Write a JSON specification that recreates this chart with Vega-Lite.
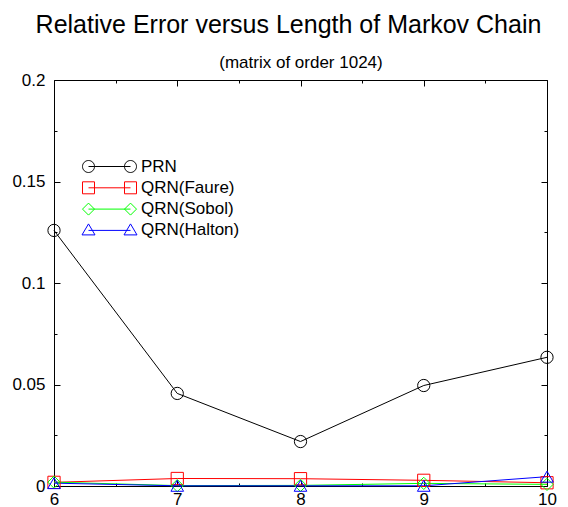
{
  "$schema": "https://vega.github.io/schema/vega-lite/v6.json",
  "width": 493,
  "height": 406,
  "autosize": {"type": "none"},
  "padding": {"left": 54, "top": 80, "right": 21, "bottom": 21},
  "config": {
    "font": "Liberation Sans",
    "view": {"stroke": null},
    "axis": {"grid": false, "domainColor": "#000000", "tickColor": "#000000", "labelColor": "#000000", "labelFontSize": 17, "labelFont": "Liberation Sans", "domainWidth": 1, "tickWidth": 1, "labelFlush": false}
  },
  "title": {
    "text": "Relative Error versus Length of Markov Chain",
    "fontSize": 25,
    "fontWeight": "normal",
    "font": "Liberation Sans",
    "color": "#000000",
    "anchor": "middle",
    "frame": "group",
    "dx": -12,
    "offset": 16
  },
  "data": {
    "values": [
      {"n": 6, "err": 0.1259, "series": "PRN"},
      {"n": 7, "err": 0.0456, "series": "PRN"},
      {"n": 8, "err": 0.0219, "series": "PRN"},
      {"n": 9, "err": 0.0495, "series": "PRN"},
      {"n": 10, "err": 0.0634, "series": "PRN"},
      {"n": 6, "err": 0.0018, "series": "QRN(Faure)"},
      {"n": 7, "err": 0.0037, "series": "QRN(Faure)"},
      {"n": 8, "err": 0.0036, "series": "QRN(Faure)"},
      {"n": 9, "err": 0.0028, "series": "QRN(Faure)"},
      {"n": 10, "err": 0.0016, "series": "QRN(Faure)"},
      {"n": 6, "err": 0.0019, "series": "QRN(Sobol)"},
      {"n": 7, "err": 0.0002, "series": "QRN(Sobol)"},
      {"n": 8, "err": 0.0003, "series": "QRN(Sobol)"},
      {"n": 9, "err": 0.0013, "series": "QRN(Sobol)"},
      {"n": 10, "err": 0.0008, "series": "QRN(Sobol)"},
      {"n": 6, "err": 0.0014, "series": "QRN(Halton)"},
      {"n": 7, "err": 0.0001, "series": "QRN(Halton)"},
      {"n": 8, "err": 0.0001, "series": "QRN(Halton)"},
      {"n": 9, "err": 0.0001, "series": "QRN(Halton)"},
      {"n": 10, "err": 0.0046, "series": "QRN(Halton)"}
    ]
  },
  "layer": [
    {
      "mark": {"type": "line", "strokeWidth": 1, "clip": false},
      "encoding": {
        "x": {
          "field": "n", "type": "quantitative",
          "scale": {"domain": [6, 10], "nice": false, "zero": false},
          "axis": {
            "orient": "bottom", "title": null,
            "values": [6, 6.5, 7, 7.5, 8, 8.5, 9, 9.5, 10],
            "labelExpr": "datum.value % 1 == 0 ? format(datum.value, 'd') : ''",
            "tickSize": {"condition": {"test": "datum.value % 1 == 0", "value": -6}, "value": -3},
            "labelPadding": 11,
            "labelOverlap": false
          }
        },
        "y": {
          "field": "err", "type": "quantitative",
          "scale": {"domain": [0, 0.2], "nice": false},
          "axis": {
            "orient": "left", "title": null,
            "values": [0, 0.025, 0.05, 0.075, 0.1, 0.125, 0.15, 0.175, 0.2],
            "labelExpr": "abs(round(datum.value*20)-datum.value*20) < 1e-6 ? format(datum.value, '~g') : ''",
            "tickSize": {"condition": {"test": "abs(round(datum.value*20)-datum.value*20) < 1e-6", "value": -6}, "value": -3},
            "labelPadding": 15,
            "labelOverlap": false
          }
        },
        "color": {
          "field": "series", "type": "nominal",
          "scale": {"domain": ["PRN", "QRN(Faure)", "QRN(Sobol)", "QRN(Halton)"], "range": ["#000000", "#ff0000", "#00ff00", "#0000ff"]},
          "legend": {
            "title": null,
            "orient": "none",
            "legendX": 47,
            "legendY": 78,
            "padding": 0,
            "symbolSize": 100,
            "symbolStrokeWidth": 1,
            "labelFontSize": 17,
            "labelFont": "Liberation Sans",
            "labelColor": "#000000",
            "labelOffset": 23,
            "rowPadding": 3.3,
            "encode": {
              "symbols": {
                "update": {
                  "fill": {"value": "transparent"},
                  "strokeWidth": {"value": 1},
                  "shape": {"signal": "datum.value === 'PRN' ? 'M-4.2,0H4.2M-3,0A1.2,1.2,0,1,1,-5.4,0A1.2,1.2,0,1,1,-3,0M5.4,0A1.2,1.2,0,1,1,3,0A1.2,1.2,0,1,1,5.4,0' : datum.value === 'QRN(Faure)' ? 'M-4.2,0H4.2M-5.4,-1.2H-3V1.2H-5.4ZM3,-1.2H5.4V1.2H3Z' : datum.value === 'QRN(Sobol)' ? 'M-4.2,0H4.2M-4.2,-1.2L-3,0L-4.2,1.2L-5.4,0ZM4.2,-1.2L5.4,0L4.2,1.2L3,0Z' : 'M-4.2,0H4.2M-4.2,-1.3L-2.9,0.9L-5.5,0.9ZM4.2,-1.3L5.5,0.9L2.9,0.9Z'"}
                }
              }
            }
          }
        }
      }
    },
    {
      "transform": [{"filter": "datum.series === 'PRN'"}],
      "mark": {"type": "point", "shape": "circle", "filled": false, "strokeWidth": 1, "size": 150, "clip": false, "opacity": 1},
      "encoding": {
        "x": {
          "field": "n", "type": "quantitative",
          "axis": {
            "orient": "top",
            "title": "(matrix of order 1024)",
            "titleFontSize": 17,
            "titleFontWeight": "normal",
            "titleColor": "#000000",
            "titlePadding": 8,
            "labels": false,
            "values": [6, 6.5, 7, 7.5, 8, 8.5, 9, 9.5, 10],
            "tickSize": {"condition": {"test": "datum.value % 1 == 0", "value": -6}, "value": -3}
          }
        },
        "y": {
          "field": "err", "type": "quantitative",
          "axis": {
            "orient": "right", "title": null, "labels": false,
            "values": [0, 0.025, 0.05, 0.075, 0.1, 0.125, 0.15, 0.175, 0.2],
            "tickSize": {"condition": {"test": "abs(round(datum.value*20)-datum.value*20) < 1e-6", "value": -6}, "value": -3}
          }
        },
        "color": {"field": "series", "type": "nominal", "legend": null}
      }
    },
    {
      "transform": [{"filter": "datum.series === 'QRN(Faure)'"}],
      "mark": {"type": "point", "shape": "square", "filled": false, "strokeWidth": 1, "size": 150, "clip": false, "opacity": 1},
      "encoding": {
        "x": {"field": "n", "type": "quantitative", "axis": null},
        "y": {"field": "err", "type": "quantitative", "axis": null},
        "color": {"field": "series", "type": "nominal", "legend": null}
      }
    },
    {
      "transform": [{"filter": "datum.series === 'QRN(Sobol)'"}],
      "mark": {"type": "point", "shape": "diamond", "filled": false, "strokeWidth": 1, "size": 150, "clip": false, "opacity": 1},
      "encoding": {
        "x": {"field": "n", "type": "quantitative", "axis": null},
        "y": {"field": "err", "type": "quantitative", "axis": null},
        "color": {"field": "series", "type": "nominal", "legend": null}
      }
    },
    {
      "transform": [{"filter": "datum.series === 'QRN(Halton)'"}],
      "mark": {"type": "point", "shape": "triangle-up", "filled": false, "strokeWidth": 1, "size": 160, "clip": false, "opacity": 1},
      "encoding": {
        "x": {"field": "n", "type": "quantitative", "axis": null},
        "y": {"field": "err", "type": "quantitative", "axis": null},
        "color": {"field": "series", "type": "nominal", "legend": null}
      }
    }
  ],
  "resolve": {"axis": {"x": "independent", "y": "independent"}}
}
